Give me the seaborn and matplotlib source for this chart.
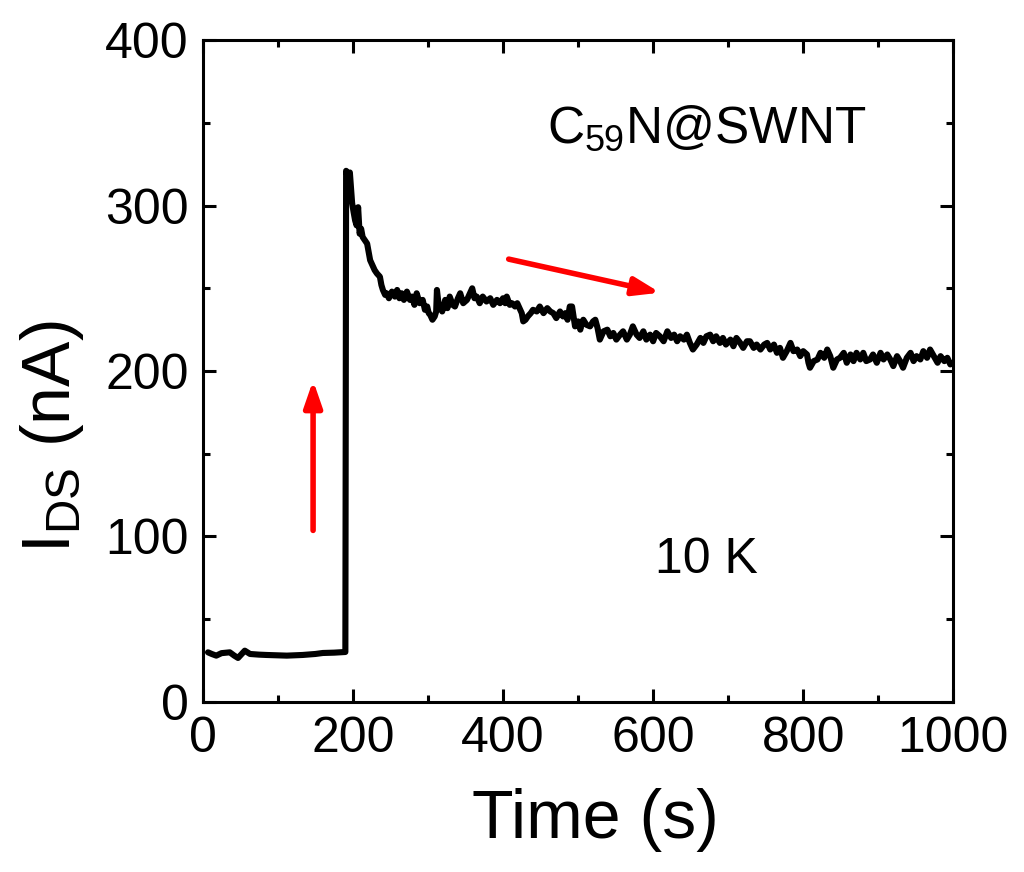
import matplotlib
matplotlib.use("Agg")
import matplotlib.pyplot as plt
import seaborn as sns
import pandas as pd

# === DATI ===
time_s = [7, 12, 18, 25, 36, 42, 47, 52, 56, 63, 75, 85, 100, 112, 133, 150, 160, 175, 189, 190,
          191, 194, 196, 199, 201, 203, 205, 207, 209, 211, 213, 216, 219, 221, 223, 226, 229,
          232, 236, 238, 240, 243, 245, 248, 252, 256, 259, 262, 265, 268, 272, 276, 279, 282,
          285, 289, 293, 296, 299, 301, 303, 306, 309, 311, 312, 314, 316, 319, 323, 326, 329,
          333, 336, 340, 343, 347, 352, 355, 359, 362, 365, 369, 373, 378, 383, 387, 392, 396,
          400, 403, 405, 409, 412, 416, 419, 422, 425, 427, 430, 433, 437, 440, 445, 449, 454,
          459, 463, 467, 471, 476, 480, 483, 486, 489, 492, 494, 496, 500, 503, 505, 507, 511,
          516, 520, 523, 526, 529, 534, 539, 543, 547, 551, 556, 560, 565, 569, 573, 578, 582,
          587, 591, 596, 600, 604, 609, 614, 619, 624, 628, 632, 636, 641, 645, 649, 653, 658,
          663, 667, 671, 676, 680, 684, 689, 693, 697, 703, 707, 711, 716, 720, 725, 729, 734,
          738, 743, 748, 752, 756, 761, 765, 769, 773, 778, 783, 787, 792, 796, 800, 805, 807,
          809, 814, 819, 823, 828, 832, 836, 840, 845, 849, 854, 858, 863, 867, 871, 876, 880,
          884, 889, 893, 898, 903, 907, 912, 916, 920, 925, 929, 933, 938, 943, 947, 951, 956,
          960, 965, 969, 974, 979, 983, 988, 992, 996, 999]
ids_nA = [30, 29, 28, 29.5, 30, 28, 26.6, 29, 31, 29, 28.6, 28.4, 28.2, 28, 28.4, 29, 29.6, 29.8, 30.2, 30.2,
          321, 316, 320, 301.5, 296, 291, 288, 299, 283, 286, 281, 279, 277, 272, 267, 264, 261,
          259, 257, 252, 249, 246, 247, 244, 248, 245, 249, 244, 247, 243, 248, 243, 245, 240,
          247, 241, 243, 237, 239, 235, 234, 231, 233, 236, 249, 241, 239, 236, 243, 238, 245,
          240, 239, 244, 247, 241, 243, 246, 250, 244, 245, 241, 245, 242, 244, 240, 243, 241,
          244, 241, 245, 240, 241, 239, 241, 238, 235, 230, 231, 233, 235, 237, 236, 239, 235,
          238, 236, 235, 232, 236, 233, 235, 231, 239, 239, 233, 227, 230, 225, 229, 231, 228,
          227, 230, 231, 226, 219, 224, 225, 221, 223, 219, 222, 224, 219, 222, 227, 222, 220,
          224, 219, 222, 218, 223, 221, 218, 224, 220, 222, 218, 221, 219, 222, 217, 213, 216,
          220, 217, 221, 222, 218, 221, 217, 220, 216, 219, 215, 220, 217, 214, 218, 218, 214,
          216, 213, 216, 217, 213, 216, 211, 214, 208, 212, 217, 212, 213, 209, 212, 210, 205,
          202, 206, 207, 211, 208, 213, 209, 202, 207, 208, 211, 205, 210, 206, 211, 207, 211,
          206, 207, 210, 205, 211, 207, 210, 207, 203, 209, 206, 202, 208, 211, 206, 209, 207,
          212, 208, 213, 209, 205, 209, 206, 208, 204, 205]

df = pd.DataFrame({"t": time_s, "I": ids_nA})

sns.set_theme(style="ticks")
plt.rcParams['font.family'] = ['Liberation Sans', 'DejaVu Sans']
plt.rcParams['mathtext.fontset'] = 'custom'
plt.rcParams['mathtext.rm'] = 'Liberation Sans'
plt.rcParams['text.color'] = 'black'
plt.rcParams['axes.labelcolor'] = 'black'
plt.rcParams['xtick.color'] = 'black'
plt.rcParams['ytick.color'] = 'black'
plt.rcParams['axes.edgecolor'] = 'black'

fig = plt.figure(figsize=(10.24, 8.72), dpi=100)
ax = fig.add_axes([0.198, 0.195, 0.733, 0.759])

sns.lineplot(data=df, x="t", y="I", ax=ax, color="black", linewidth=4.4,
             estimator=None, sort=False)

ax.set_xlim(0, 1000)
ax.set_ylim(0, 400)
ax.set_xticks([0, 200, 400, 600, 800, 1000])
ax.set_yticks([0, 100, 200, 300, 400])
ax.set_xticks(range(100, 1000, 200), minor=True)
ax.set_yticks(range(50, 400, 100), minor=True)

for s in ax.spines.values():
    s.set_linewidth(2.2)
    s.set_visible(True)
ax.tick_params(which="major", direction="in", length=9.5, width=2.2,
               top=True, right=True, labelsize=36, pad=10)
ax.tick_params(which="minor", direction="in", length=5, width=2.2,
               top=True, right=True)

ax.set_xlabel("Time (s)", fontsize=49)
ax.xaxis.set_label_coords(0.523, -0.13)
ax.set_ylabel(r"$\mathregular{I_{DS}}$ (nA)", fontsize=49)
ax.yaxis.set_label_coords(-0.155, 0.40)

# testi
ax.text(459, 338, r"C$\mathregular{_{59}}$N@SWNT", fontsize=37)
ax.text(603, 78, "10 K", fontsize=36)

# frecce rosse
ax.annotate("", xy=(147, 196), xytext=(147, 102),
            arrowprops=dict(arrowstyle="-|>,head_length=1.3,head_width=0.45",
                            color="red", lw=4))
ax.annotate("", xy=(613, 247), xytext=(404, 268),
            arrowprops=dict(arrowstyle="-|>,head_length=1.3,head_width=0.45",
                            color="red", lw=4))

fig.savefig("out.png", dpi=100)
